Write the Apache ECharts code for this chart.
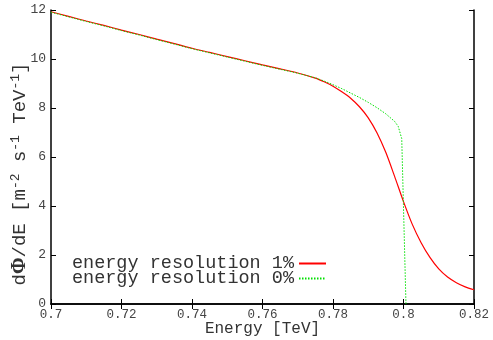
<!DOCTYPE html>
<html>
<head>
<meta charset="utf-8">
<script src="https://cdn.jsdelivr.net/npm/echarts@6/dist/echarts.min.js"></script>
<style>
  html, body { margin: 0; padding: 0; background: #fff; }
  #chart { width: 493px; height: 340px; }
</style>
</head>
<body>
<div id="chart"></div>
<script>
// energy resolution 1% (red, smeared)
const energy1 = [0.700, 0.705, 0.710, 0.715, 0.720, 0.725, 0.730, 0.735, 0.740, 0.745,
  0.750, 0.755, 0.760, 0.765, 0.770, 0.775, 0.7775, 0.780, 0.7825, 0.785, 0.7875,
  0.790, 0.7925, 0.795, 0.7975, 0.800, 0.8025, 0.805, 0.8075, 0.810, 0.8125,
  0.815, 0.8175, 0.820];
const flux1 = [11.93, 11.74, 11.55, 11.37, 11.18, 11.00, 10.81, 10.63, 10.44, 10.27,
  10.10, 9.93, 9.76, 9.60, 9.43, 9.22, 9.07, 8.89, 8.66, 8.40, 8.05,
  7.60, 6.98, 6.18, 5.20, 4.18, 3.25, 2.50, 1.90, 1.43, 1.10,
  0.87, 0.70, 0.58];

// energy resolution 0% (green, sharp cut)
const energy0 = [0.700, 0.705, 0.710, 0.715, 0.720, 0.725, 0.730, 0.735, 0.740, 0.745,
  0.750, 0.755, 0.760, 0.765, 0.770, 0.775, 0.7775, 0.780, 0.7825, 0.785, 0.7875,
  0.790, 0.7925, 0.795, 0.7975, 0.7985, 0.7995, 0.8007];
const flux0 = [11.91, 11.72, 11.53, 11.35, 11.16, 10.98, 10.79, 10.61, 10.42, 10.25,
  10.08, 9.91, 9.74, 9.58, 9.42, 9.23, 9.10, 8.95, 8.79, 8.61, 8.43,
  8.23, 8.01, 7.76, 7.45, 7.25, 6.75, 0];

const xTicks = { min: 0.7, max: 0.82, interval: 0.02 };
const yTicks = { min: 0, max: 12, interval: 2 };

const mono = "'Liberation Mono', 'DejaVu Sans Mono', monospace";

function pairs(xs, ys) {
  return xs.map((x, i) => [x, ys[i]]);
}

const frame = { show: true, lineStyle: { color: "#000", width: 1.5 } };
const ticks = { show: true, inside: true, length: 5, lineStyle: { color: "#000", width: 1 } };

const chart = echarts.init(document.getElementById("chart"));
chart.setOption({
  animation: false,
  grid: { left: 51, right: 19, top: 10, bottom: 36, outerBoundsMode: "none" },
  legend: {
    data: ["energy resolution 1%", "energy resolution 0%"],
    orient: "vertical",
    align: "right",
    right: 166,
    top: 254,
    padding: 0,
    itemGap: -4,
    itemWidth: 27,
    itemHeight: 10,
    itemStyle: { opacity: 0 },
    textStyle: { fontFamily: mono, fontSize: 18.5, lineHeight: 15, color: "#333" },
  },
  xAxis: [
    {
      type: "value",
      min: xTicks.min,
      max: xTicks.max,
      interval: xTicks.interval,
      name: "Energy [TeV]",
      nameLocation: "middle",
      nameGap: 17,
      nameMoveOverlap: false,
      nameTextStyle: { fontFamily: mono, fontSize: 16, color: "#333" },
      axisLine: frame,
      axisTick: ticks,
      splitLine: { show: false },
      axisLabel: {
        margin: 4,
        fontFamily: mono,
        fontSize: 12.5,
        color: "#444",
        formatter: (v) => String(+v.toFixed(2)),
      },
    },
    {
      type: "value",
      position: "top",
      min: xTicks.min,
      max: xTicks.max,
      interval: xTicks.interval,
      axisLine: frame,
      axisTick: ticks,
      splitLine: { show: false },
      axisLabel: { show: false },
    },
  ],
  yAxis: [
    {
      type: "value",
      min: yTicks.min,
      max: yTicks.max,
      interval: yTicks.interval,
      axisLine: frame,
      axisTick: ticks,
      splitLine: { show: false },
      axisLabel: { margin: 5, fontFamily: mono, fontSize: 13, color: "#444" },
    },
    {
      type: "value",
      position: "right",
      min: yTicks.min,
      max: yTicks.max,
      interval: yTicks.interval,
      axisLine: frame,
      axisTick: ticks,
      splitLine: { show: false },
      axisLabel: { show: false },
    },
  ],
  graphic: [
    {
      type: "text",
      x: 19.5,
      y: 174,
      rotation: Math.PI / 2,
      style: {
        text: "{m|d}{phi|Φ}{m|/dE [m}{s|-2}{m| s}{s|-1}{m| TeV}{s|-1}{m|]}",
        align: "center",
        verticalAlign: "middle",
        fill: "#333",
        rich: {
          m: { fontFamily: mono, fontSize: 19, lineHeight: 20, verticalAlign: "bottom", fill: "#333" },
          phi: { fontFamily: "'Liberation Serif', serif", fontSize: 20, fontWeight: "bold", lineHeight: 20, verticalAlign: "bottom", fill: "#333" },
          s: { fontFamily: mono, fontSize: 13, lineHeight: 13, padding: [0, 0, 12, 0], verticalAlign: "top", fill: "#333" },
        },
      },
    },
  ],
  series: [
    {
      name: "energy resolution 1%",
      type: "line",
      data: pairs(energy1, flux1),
      symbol: "none",
      smooth: 0.25,
      lineStyle: { color: "#ff0000", width: 1.2 },
      itemStyle: { color: "#ff0000" },
    },
    {
      name: "energy resolution 0%",
      type: "line",
      data: pairs(energy0, flux0),
      symbol: "none",
      lineStyle: { color: "#00e000", width: 1, type: [1.5, 1.5] },
      itemStyle: { color: "#00e000" },
    },
  ],
});
</script>
</body>
</html>
